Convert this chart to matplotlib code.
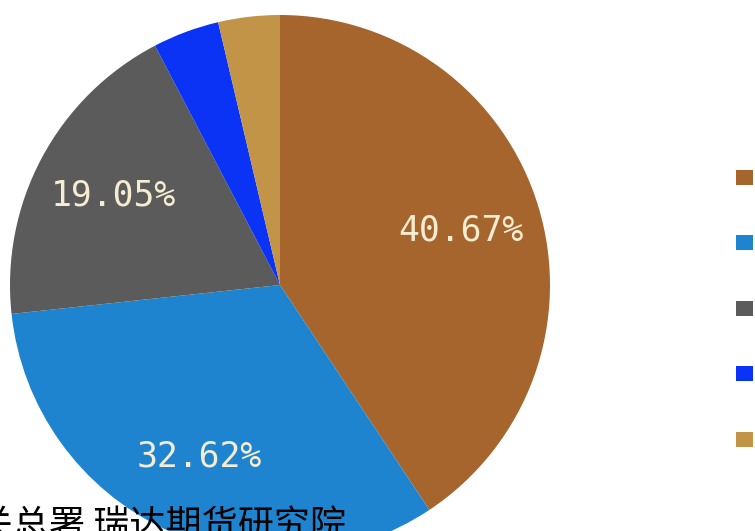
import matplotlib.pyplot as plt

plt.rcParams['font.family'] = ['Noto Sans CJK SC', 'DejaVu Sans']

# shares (%) clockwise from 12 o'clock
shares = [40.67, 32.62, 19.05, 3.98, 3.68]
colors = ['#A5652D', '#1E84CF', '#5B5B5B', '#0A33F5', '#C29447']
legend_labels = ['', '', '', '', '']
source_text = '资料来源：海关总署 瑞达期货研究院'

W, H = 755, 531
fig = plt.figure(figsize=(W / 100, H / 100), dpi=100)
ax = fig.add_axes([0, 0, 1, 1])

wedges, texts, autotexts = ax.pie(
    shares,
    colors=colors,
    startangle=90,
    counterclock=False,
    radius=270,
    center=(280, H - 285),
    autopct=lambda p: f'{p:.2f}%' if p > 10 else '',
    pctdistance=0.7,
    textprops=dict(color='#F6ECD2', fontsize=25, family='DejaVu Sans Mono'),
    wedgeprops=dict(linewidth=0),
)
ax.set_xlim(0, W)
ax.set_ylim(0, H)
ax.set_aspect('equal')
ax.axis('off')

# legend swatches down the right edge
ax.legend(wedges, legend_labels, loc='upper left',
          bbox_to_anchor=(736 / W, 1 - 170 / H), bbox_transform=fig.transFigure,
          frameon=False, fontsize=12, handlelength=1.0, handleheight=1.0,
          labelspacing=2.9, borderpad=0, borderaxespad=0, handletextpad=0.3)

fig.text(346 / W, -5 / H, source_text, ha='right', va='baseline',
         fontsize=26, color='black')

fig.savefig('out.png', dpi=100)
